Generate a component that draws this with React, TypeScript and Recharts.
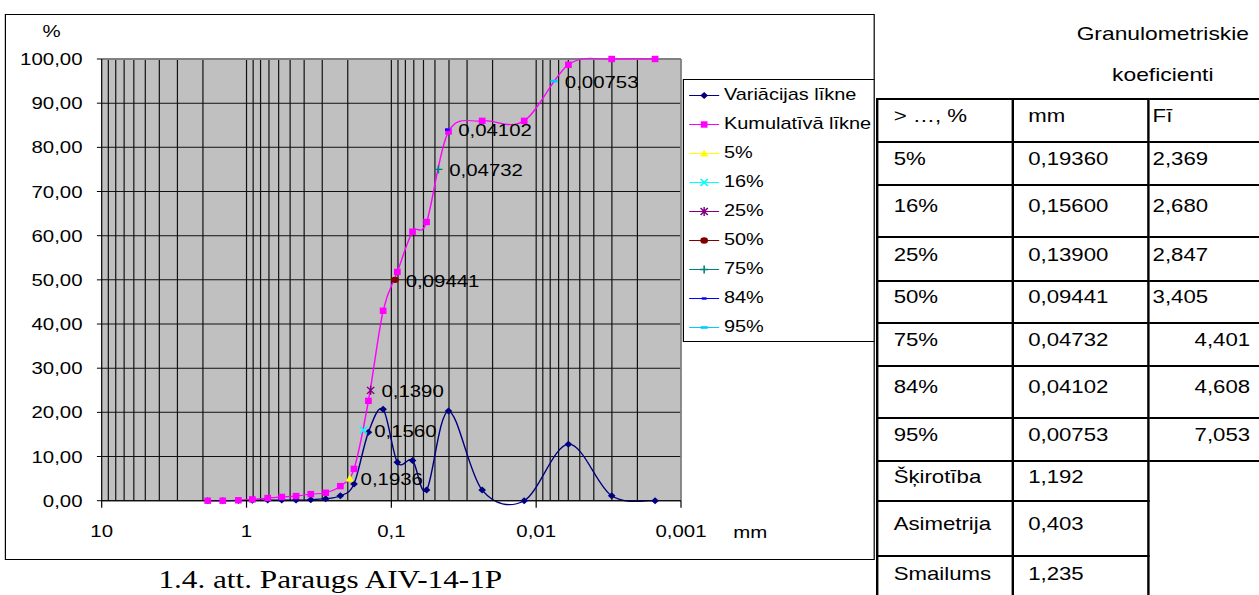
import React from "react";
import {
  ComposedChart,
  Line,
  Scatter,
  XAxis,
  YAxis,
  CartesianGrid,
  ReferenceLine,
} from "recharts";

// fraction sizes (mm) shared by both curves
const sizes = [
  1.854, 1.46, 1.139, 0.912, 0.714, 0.571, 0.455, 0.36, 0.284, 0.225, 0.181,
  0.144, 0.114, 0.0909, 0.0714, 0.0571, 0.0403, 0.0236, 0.0121, 0.00599,
  0.00301, 0.00151,
];
const variation = [
  0, 0, 0.05, 0.1, 0.15, 0.15, 0.15, 0.2, 0.45, 1.1, 3.8, 15.5, 20.7, 8.7, 9.1,
  2.4, 20.3, 2.4, 0, 12.8, 1.1, 0,
];
const cumulative = [
  0, 0, 0.1, 0.3, 0.6, 0.85, 1.05, 1.5, 1.8, 3.3, 7.2, 22.6, 43.0, 51.8, 60.9,
  63.1, 83.6, 86.0, 86.0, 98.7, 100, 100,
];
const seriesNames = ["Variācijas līkne", "Kumulatīvā līkne"];

const percentileNames = ["5%", "16%", "25%", "50%", "75%", "84%", "95%"];
const percentileValues = [5, 16, 25, 50, 75, 84, 95];
const percentileMm = [0.1936, 0.156, 0.139, 0.09441, 0.04732, 0.04102, 0.00753];
const percentileLabels = ["0,1936", "0,1560", "0,1390", "0,09441", "0,04732", "0,04102", "0,00753"];
const percentilePhi = [2.369, 2.68, 2.847, 3.405, 4.401, 4.608, 7.053];

const statNames = ["Šķirotība", "Asimetrija", "Smailums"];
const statValues = ["1,192", "0,403", "1,235"];
const tableHeader = ["> …, %", "mm", "Fī"];

const xTicks = [10, 1, 0.1, 0.01, 0.001];
const yTicks = [0, 10, 20, 30, 40, 50, 60, 70, 80, 90, 100];

// the source picture is stretched sideways, so everything is laid out narrower and scaled
const STRETCH = 1.2;
const FONT = '"Liberation Sans", Arial, sans-serif';

const gridValues: number[] = [];
[0.001, 0.01, 0.1, 1].forEach((d) => {
  for (let m = 1; m <= 9; m++) {
    const v = +(m * d).toPrecision(3);
    if (v > 0.001) gridValues.push(v);
  }
});

// Excel-like smoothed line (Catmull-Rom through the points)
const excelSmooth = (context: any) => {
  let pts: number[][] = [];
  return {
    areaStart() {},
    areaEnd() {},
    lineStart() {
      pts = [];
    },
    point(x: number, y: number) {
      pts.push([+x, +y]);
    },
    lineEnd() {
      if (!pts.length) return;
      context.moveTo(pts[0][0], pts[0][1]);
      for (let i = 0; i < pts.length - 1; i++) {
        const p0 = pts[Math.max(i - 1, 0)];
        const p1 = pts[i];
        const p2 = pts[i + 1];
        const p3 = pts[Math.min(i + 2, pts.length - 1)];
        context.bezierCurveTo(
          p1[0] + (p2[0] - p0[0]) / 6,
          p1[1] + (p2[1] - p0[1]) / 6,
          p2[0] - (p3[0] - p1[0]) / 6,
          p2[1] - (p3[1] - p1[1]) / 6,
          p2[0],
          p2[1]
        );
      }
    },
  };
};

const Marker = ({ kind, cx, cy, color }: { kind: string; cx: number; cy: number; color: string }) => {
  switch (kind) {
    case "diamond":
      return <polygon points={`${cx},${cy - 3.5} ${cx + 3.2},${cy} ${cx},${cy + 3.5} ${cx - 3.2},${cy}`} fill={color} />;
    case "square":
      return <rect x={cx - 2.8} y={cy - 3.2} width={5.6} height={6.4} fill={color} />;
    case "triangle":
      return <polygon points={`${cx},${cy - 4} ${cx + 3.4},${cy + 3} ${cx - 3.4},${cy + 3}`} fill={color} />;
    case "cross":
      return <path d={`M${cx - 3},${cy - 3.5}L${cx + 3},${cy + 3.5}M${cx - 3},${cy + 3.5}L${cx + 3},${cy - 3.5}`} stroke={color} strokeWidth={1.3} />;
    case "star":
      return <path d={`M${cx - 3},${cy - 3.5}L${cx + 3},${cy + 3.5}M${cx - 3},${cy + 3.5}L${cx + 3},${cy - 3.5}M${cx},${cy - 4.5}L${cx},${cy + 4.5}`} stroke={color} strokeWidth={1.2} />;
    case "circle":
      return <circle cx={cx} cy={cy} r={3.2} fill={color} />;
    case "plus":
      return <path d={`M${cx - 3.4},${cy}L${cx + 3.4},${cy}M${cx},${cy - 4}L${cx},${cy + 4}`} stroke={color} strokeWidth={1.3} />;
    case "dash":
      return <rect x={cx - 2} y={cy - 1.2} width={4} height={2.4} fill={color} />;
    default:
      return <rect x={cx - 3} y={cy - 1.3} width={6} height={2.6} fill={color} />;
  }
};

const percentileStyles = [
  { kind: "triangle", color: "#FFFF00" },
  { kind: "cross", color: "#00FFFF" },
  { kind: "star", color: "#800080" },
  { kind: "circle", color: "#800000" },
  { kind: "plus", color: "#008080" },
  { kind: "dash", color: "#0000FF" },
  { kind: "wideDash", color: "#00CCFF" },
];

const legendItems = [
  { name: seriesNames[0], kind: "diamond", color: "#000080" },
  { name: seriesNames[1], kind: "square", color: "#FF00FF" },
  ...percentileNames.map((name, i) => ({ name, ...percentileStyles[i] })),
];

const fmtX = (v: number) => String(v).replace(".", ",");
const fmtY = (v: number) => v.toFixed(2).replace(".", ",");

const rowHeights = [43, 42.5, 52.5, 44, 41.5, 43.5, 51.5, 43.5, 40, 55, 45];
const cell: React.CSSProperties = {
  border: "2px solid #000",
  padding: "0 0 9px 0",
  verticalAlign: "middle",
  whiteSpace: "nowrap",
};

export default function App() {
  const variationData = sizes.map((x, i) => ({ x, y: variation[i] }));
  const cumulativeData = sizes.map((x, i) => ({ x, y: cumulative[i] }));

  return (
    <div style={{ position: "absolute", left: 0, top: 0, width: 1259, height: 595, overflow: "hidden", background: "#fff" }}>
      <div
        style={{
          position: "absolute",
          left: 0,
          top: 0,
          width: 1259 / STRETCH,
          height: 595,
          transform: `scaleX(${STRETCH})`,
          transformOrigin: "0 0",
          fontFamily: FONT,
          color: "#000",
        }}
      >
        <div style={{ position: "absolute", left: 4.2, top: 13.5, width: 725, height: 546.5, border: "1px solid #000", boxSizing: "border-box" }} />

        <div style={{ position: "absolute", left: 0, top: 0 }}>
          <ComposedChart width={730} height={560} margin={{ top: 59, right: 162.5, bottom: 19.3, left: 24.75 }}>
            <CartesianGrid
              stroke="#111"
              fill="#C0C0C0"
              fillOpacity={1}
              verticalValues={gridValues}
            />
            <XAxis
              dataKey="x"
              type="number"
              scale="log"
              domain={[0.001, 10]}
              allowDataOverflow
              reversed
              ticks={xTicks}
              interval={0}
              tickFormatter={fmtX}
              axisLine={{ stroke: "#000" }}
              tickLine={{ stroke: "#000" }}
              tickSize={7}
              tickMargin={17.6}
              tick={{ fill: "#000", fontSize: 17 }}
              height={40}
            />
            <YAxis
              type="number"
              domain={[0, 100]}
              ticks={yTicks}
              interval={0}
              tickFormatter={fmtY}
              axisLine={{ stroke: "#000" }}
              tickLine={{ stroke: "#000" }}
              tickSize={4}
              tickMargin={12}
              tick={{ fill: "#000", fontSize: 17 }}
              width={60}
            />
            <ReferenceLine y={100} stroke="#808080" strokeWidth={2} />
            <ReferenceLine x={0.001} stroke="#808080" strokeWidth={1.5} />
            <Line
              data={variationData}
              dataKey="y"
              name={seriesNames[0]}
              type={excelSmooth as any}
              stroke="#000080"
              strokeWidth={1.2}
              dot={(p: any) => <Marker key={`v${p.index}`} kind="diamond" cx={p.cx} cy={p.cy} color="#000080" />}
              activeDot={false}
              isAnimationActive={false}
            />
            <Line
              data={cumulativeData}
              dataKey="y"
              name={seriesNames[1]}
              type={excelSmooth as any}
              stroke="#FF00FF"
              strokeWidth={1.2}
              dot={(p: any) => <Marker key={`c${p.index}`} kind="square" cx={p.cx} cy={p.cy} color="#FF00FF" />}
              activeDot={false}
              isAnimationActive={false}
            />
            {percentileNames.map((name, i) => (
              <Scatter
                key={name}
                name={name}
                data={[{ x: percentileMm[i], y: percentileValues[i], label: percentileLabels[i] }]}
                dataKey="y"
                isAnimationActive={false}
                shape={(p: any) => (
                  <g>
                    <Marker kind={percentileStyles[i].kind} cx={p.cx} cy={p.cy} color={percentileStyles[i].color} />
                    <text x={p.cx + 9} y={p.cy} dy="0.4em" fontSize={17} fill="#000">
                      {p.payload.label}
                    </text>
                  </g>
                )}
              />
            ))}
          </ComposedChart>
        </div>

        <div style={{ position: "absolute", left: 27.9, top: 22.7, width: 30, textAlign: "center", fontSize: 17, lineHeight: "17px" }}>%</div>
        <div style={{ position: "absolute", left: 611.1, top: 523.6, fontSize: 17, lineHeight: "17px" }}>mm</div>

        {/* legend */}
        <div
          style={{
            position: "absolute",
            left: 568.9,
            top: 79,
            width: 160.3,
            height: 263,
            border: "1px solid #000",
            boxSizing: "border-box",
            background: "#fff",
          }}
        >
          {legendItems.map((item, i) => (
            <div
              key={item.name}
              style={{ position: "absolute", left: 0, top: 0.5 + 29 * i, height: 29, display: "flex", alignItems: "center", whiteSpace: "nowrap", fontSize: 16.6 }}
            >
              <svg width={33.4} height={29} style={{ display: "block" }}>
                <line x1={4.3} x2={29.3} y1={14.5} y2={14.5} stroke={item.color} strokeWidth={1.2} />
                <Marker kind={item.kind} cx={16.8} cy={14.5} color={item.color} />
              </svg>
              <span>{item.name}</span>
            </div>
          ))}
        </div>

        {/* coefficients table */}
        <div style={{ position: "absolute", left: 869, top: 12.7, width: 200, textAlign: "center", fontSize: 19, lineHeight: "41px" }}>
          Granulometriskie
          <br />
          koeficienti
        </div>
        <table
          style={{
            position: "absolute",
            left: 729.8,
            top: 98,
            borderCollapse: "collapse",
            tableLayout: "fixed",
            width: 339,
            fontSize: 18.5,
            fontFamily: FONT,
          }}
        >
          <colgroup>
            <col style={{ width: 113 }} />
            <col style={{ width: 113 }} />
            <col style={{ width: 113 }} />
          </colgroup>
          <tbody>
            <tr style={{ height: rowHeights[0] }}>
              <td style={{ ...cell, paddingLeft: 12.9 }}>{tableHeader[0]}</td>
              <td style={{ ...cell, paddingLeft: 12 }}>{tableHeader[1]}</td>
              <td style={{ ...cell, paddingLeft: 2.7 }}>{tableHeader[2]}</td>
            </tr>
            {percentileNames.map((name, i) => (
              <tr key={name} style={{ height: rowHeights[i + 1] }}>
                <td style={{ ...cell, paddingLeft: 12.9 }}>{name}</td>
                <td style={{ ...cell, paddingLeft: 12 }}>{percentileMm[i].toFixed(5).replace(".", ",")}</td>
                <td
                  style={
                    i >= 4
                      ? { ...cell, textAlign: "right", paddingRight: 27 }
                      : { ...cell, paddingLeft: 2.7 }
                  }
                >
                  {percentilePhi[i].toFixed(3).replace(".", ",")}
                </td>
              </tr>
            ))}
            {statNames.map((name, i) => (
              <tr key={name} style={{ height: rowHeights[i + 8] }}>
                <td style={{ ...cell, paddingLeft: 12.9 }}>{name}</td>
                <td style={{ ...cell, paddingLeft: 12 }}>{statValues[i]}</td>
                <td style={{ border: "none" }} />
              </tr>
            ))}
          </tbody>
        </table>

        <div
          style={{
            position: "absolute",
            left: 132,
            top: 567,
            fontFamily: '"Liberation Serif", "Times New Roman", serif',
            fontSize: 26,
            lineHeight: "26px",
            whiteSpace: "nowrap",
          }}
        >
          1.4. att. Paraugs AIV-14-1P
        </div>
      </div>
    </div>
  );
}
